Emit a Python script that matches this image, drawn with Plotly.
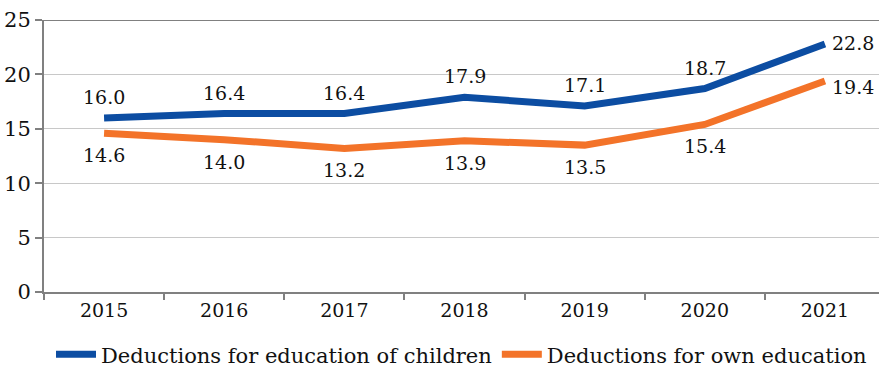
import plotly.graph_objects as go

years = ["2015", "2016", "2017", "2018", "2019", "2020", "2021"]
children = [16.0, 16.4, 16.4, 17.9, 17.1, 18.7, 22.8]
own = [14.6, 14.0, 13.2, 13.9, 13.5, 15.4, 19.4]
y_ticks = [0, 5, 10, 15, 20, 25]

BLUE = "#0C4DA2"
ORANGE = "#F37329"
FONT = "DejaVu Serif"

fig = go.Figure()
fig.add_trace(go.Scatter(
    x=years, y=children, name="Deductions for education of children",
    mode="lines", line=dict(color=BLUE, width=7),
))
fig.add_trace(go.Scatter(
    x=years, y=own, name="Deductions for own education",
    mode="lines", line=dict(color=ORANGE, width=7),
))

last = len(years) - 1
for i, v in enumerate(children):
    if i == last:
        fig.add_annotation(x=i, y=v, text=f"{v:.1f}", showarrow=False,
                           xanchor="left", xshift=5, yshift=1)
    else:
        fig.add_annotation(x=i, y=v, text=f"{v:.1f}", showarrow=False, yshift=21)
for i, v in enumerate(own):
    if i == last:
        fig.add_annotation(x=i, y=v, text=f"{v:.1f}", showarrow=False,
                           xanchor="left", xshift=5, yshift=-6)
    else:
        fig.add_annotation(x=i, y=v, text=f"{v:.1f}", showarrow=False, yshift=-22)

fig.update_annotations(font=dict(family=FONT, size=19, color="#111111"))

fig.add_shape(type="line", xref="paper", yref="y", x0=0, x1=1, y0=25, y1=25,
              line=dict(color="#808080", width=2))

fig.update_layout(
    width=879, height=368,
    margin=dict(l=44, r=0, t=20, b=76, autoexpand=False),
    paper_bgcolor="white", plot_bgcolor="white",
    font=dict(family=FONT, size=19, color="#111111"),
    showlegend=True,
    legend=dict(orientation="h", x=0.5, xanchor="center", y=-0.155, yanchor="top",
                font=dict(family=FONT, size=21), itemwidth=40, tracegroupgap=0),
    xaxis=dict(type="category", range=[-0.5, 6.45], tickson="boundaries",
               ticks="outside", ticklen=6, tickcolor="#808080", tickwidth=2,
               showline=True, linecolor="#808080", linewidth=2,
               showgrid=False, tickfont=dict(size=19)),
    yaxis=dict(range=[0, 25], tickvals=y_ticks, ticks="outside", ticklen=7,
               tickcolor="#808080", tickwidth=2, showline=True, linecolor="#808080",
               linewidth=2, gridcolor="#C8C8C8", gridwidth=1, zeroline=False,
               tickfont=dict(size=21)),
)

fig.write_html("out.html")
